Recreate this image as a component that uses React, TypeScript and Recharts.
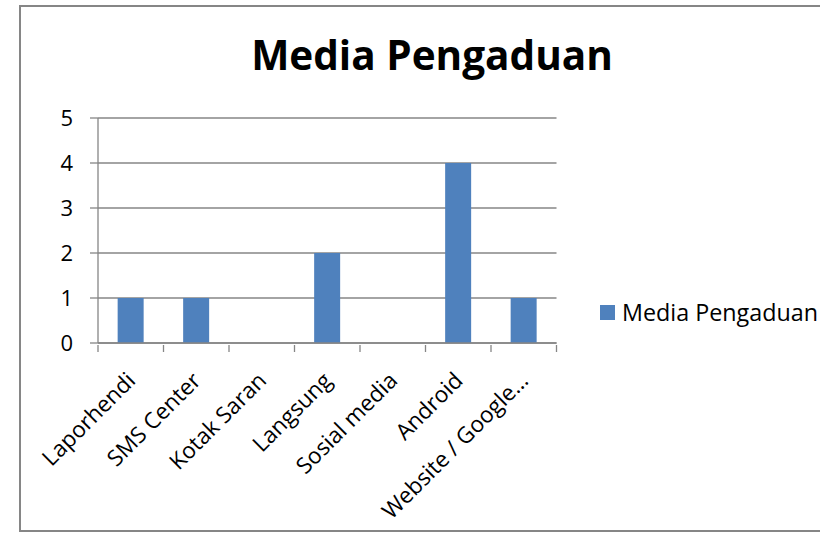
import React from 'react';
import { BarChart, Bar, XAxis, YAxis, CartesianGrid } from 'recharts';

// data
const categories = [
  'Laporhendi',
  'SMS Center',
  'Kotak Saran',
  'Langsung',
  'Sosial media',
  'Android',
  'Website / Google…',
];
const jumlah = [1, 1, 0, 2, 0, 4, 1];
const yTicks = [0, 1, 2, 3, 4, 5];
const seriesName = 'Media Pengaduan';
const title = 'Media Pengaduan';

const chartData = categories.map((name, i) => ({ name, value: jumlah[i] }));

const BAR_COLOR = '#4F81BD';
const LINE_COLOR = '#868686';
const FONT = '"Open Sans", Lato, sans-serif';

const PLOT_LEFT = 98;
const PLOT_RIGHT = 556.5;
const BAND = (PLOT_RIGHT - PLOT_LEFT) / categories.length;

function CategoryTick(props: any) {
  const { x, y, payload, index } = props;
  const left = x - BAND / 2;
  const ax = x + 6;
  const ay = y + 37;
  return (
    <g>
      <line x1={left} y1={y} x2={left} y2={y + 7} stroke={LINE_COLOR} strokeWidth={1.3} />
      {index === categories.length - 1 && (
        <line x1={x + BAND / 2} y1={y} x2={x + BAND / 2} y2={y + 7} stroke={LINE_COLOR} strokeWidth={1.3} />
      )}
      <text
        x={ax}
        y={ay}
        textAnchor="end"
        transform={`rotate(-45, ${ax}, ${ay})`}
        fontFamily={FONT}
        fontSize={22.5}
        fill="#000"
      >
        {payload.value}
      </text>
    </g>
  );
}

export default function App() {
  return (
    <div style={{ position: 'fixed', left: 0, top: 0, width: 820, height: 534, background: '#fff', overflow: 'hidden' }}>
      {/* outer chart frame */}
      <div
        style={{
          position: 'absolute',
          left: 19,
          top: 5,
          width: 900,
          height: 527,
          border: `2px solid ${LINE_COLOR}`,
          boxSizing: 'border-box',
        }}
      />
      <div
        style={{
          position: 'absolute',
          left: 0,
          width: 864,
          top: 30,
          textAlign: 'center',
          fontFamily: FONT,
          fontWeight: 700,
          fontSize: 40.5,
          lineHeight: '50px',
          color: '#000',
        }}
      >
        {title}
      </div>
      <BarChart
        width={820}
        height={534}
        data={chartData}
        margin={{ top: 118, right: 820 - PLOT_RIGHT, bottom: 0, left: 0 }}
        barCategoryGap="30%"
        style={{ position: 'absolute', left: 0, top: 0 }}
      >
        <CartesianGrid vertical={false} stroke={LINE_COLOR} strokeWidth={1.3} />
        <XAxis
          dataKey="name"
          interval={0}
          height={191}
          tickSize={0}
          tickLine={false}
          axisLine={{ stroke: LINE_COLOR, strokeWidth: 1.3 }}
          tick={<CategoryTick />}
        />
        <YAxis
          domain={[0, 5]}
          ticks={yTicks}
          width={PLOT_LEFT}
          tickSize={8}
          tickMargin={17}
          tickLine={{ stroke: LINE_COLOR, strokeWidth: 1.3 }}
          axisLine={{ stroke: LINE_COLOR, strokeWidth: 1.3 }}
          tick={{ fontFamily: FONT, fontSize: 22, fill: '#000' }}
        />
        <Bar dataKey="value" name={seriesName} fill={BAR_COLOR} isAnimationActive={false} />
      </BarChart>
      {/* legend */}
      <div
        style={{
          position: 'absolute',
          left: 600,
          top: 296,
          display: 'flex',
          alignItems: 'center',
          fontFamily: FONT,
          fontSize: 23.3,
          color: '#000',
          whiteSpace: 'nowrap',
        }}
      >
        <span style={{ display: 'inline-block', width: 15, height: 15, background: BAR_COLOR, marginRight: 7 }} />
        <span>{seriesName}</span>
      </div>
    </div>
  );
}
